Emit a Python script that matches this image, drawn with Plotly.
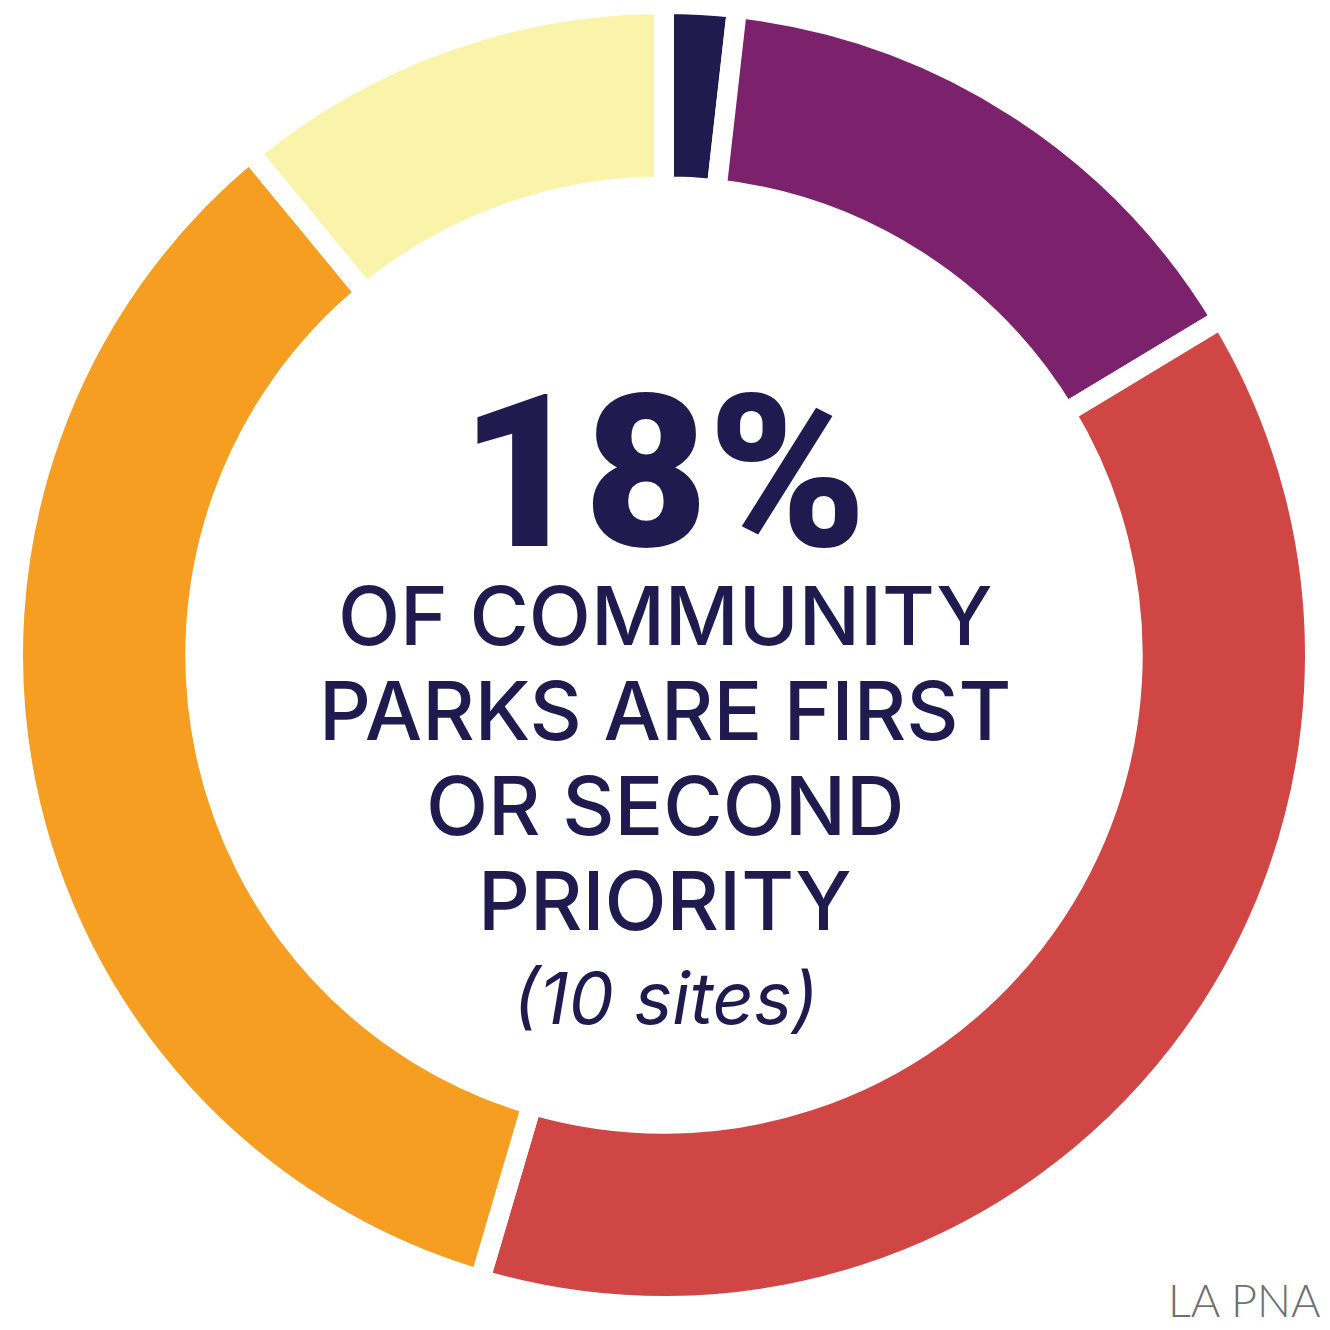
import plotly.graph_objects as go

# Data
categories = ["Very High", "High", "Moderate", "Low", "Very Low"]
shares = [1.79, 14.57, 38.19, 34.47, 10.97]
colors = ["#201A4E", "#7C226C", "#D04645", "#F59E22", "#F9F4AA"]

headline = "18%"
body_lines = ["OF COMMUNITY", "PARKS ARE FIRST", "OR SECOND", "PRIORITY"]
note = "(10 sites)"
source = "LA PNA"

W = H = 1330
NAVY = "#201A4E"

def px(xpix):
    return xpix / W

def py(ypix):
    return 1 - ypix / H

CX, CY, R = 664, 655, 651

fig = go.Figure(
    go.Pie(
        labels=categories,
        values=shares,
        sort=False,
        direction="clockwise",
        rotation=0,
        hole=0.72,
        marker=dict(colors=colors, line=dict(color="white", width=20)),
        textinfo="none",
        hoverinfo="none",
        showlegend=False,
        domain=dict(x=[px(CX - R), px(CX + R)], y=[py(CY + R), py(CY - R)]),
    )
)

annotations = [
    dict(text=headline, x=px(663), y=py(472), font=dict(family="Roboto", size=214, color=NAVY, weight=900)),
]
line_centers = [616, 711, 806, 901]
for t, yc in zip(body_lines, line_centers):
    annotations.append(dict(text=t, x=px(665), y=py(yc), font=dict(family="Inter", size=81, color=NAVY, weight=500)))
annotations.append(dict(text=note, x=px(665), y=py(997), font=dict(family="Inter", size=72, color=NAVY, style="italic", weight=400)))
for a in annotations:
    a.update(xref="paper", yref="paper", xanchor="center", yanchor="middle", showarrow=False)
annotations.append(dict(text=source, x=px(1322), y=py(1300), xref="paper", yref="paper", xanchor="right",
                        yanchor="middle", showarrow=False,
                        font=dict(family="Lato", size=45, color="#707070", weight=300)))

fig.update_layout(
    width=W,
    height=H,
    margin=dict(l=0, r=0, t=0, b=0),
    paper_bgcolor="white",
    plot_bgcolor="white",
    annotations=annotations,
)

fig.write_html("out.html", config={"displayModeBar": False},
               post_script="document.body.style.margin='0';document.body.style.overflow='hidden';")
